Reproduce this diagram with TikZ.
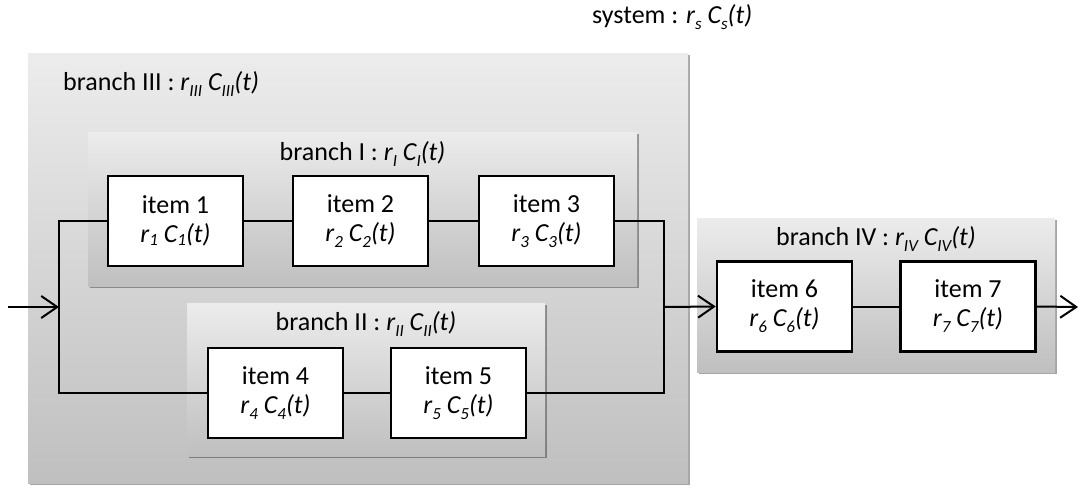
\documentclass[tikz,border=0pt]{standalone}
\usepackage{fontspec}
\setmainfont{Carlito}
\usetikzlibrary{arrows.meta,shadows}
\newcommand{\sbs}[1]{\raisebox{-6pt}{\fontsize{17}{17}\selectfont #1}}
\newcommand{\sba}[1]{\raisebox{-3pt}{\fontsize{17}{17}\selectfont #1}}
\begin{document}
\begin{tikzpicture}[x=1pt,y=-1pt,
  panel/.style={draw=none, top color=gray!15, bottom color=gray!50,
    drop shadow={shadow xshift=2pt,shadow yshift=-2pt,opacity=0.35,fill=black},
    inner sep=0, outer sep=0, anchor=north west},
  item/.style={draw=black, line width=2.5pt, fill=white, minimum width=135pt,
    minimum height=90pt, inner sep=0, align=center, font=\fontsize{26}{29}\selectfont},
  lbl/.style={font=\fontsize{26}{29}\selectfont, inner sep=0, anchor=base},
  wire/.style={line width=2pt},
  arr/.style={wire, -{Straight Barb[length=16pt,width=22pt,line width=2pt]}}
]
\useasboundingbox (0,0) rectangle (1081,488);
% panels
\node[panel, minimum width=660pt, minimum height=430pt] (b3) at (28,53) {};
\node[panel, minimum width=549pt, minimum height=154pt] (b1) at (88,132) {};
\node[panel, minimum width=358pt, minimum height=153pt] (b2) at (187,303) {};
\node[panel, minimum width=358pt, minimum height=154pt] (b4) at (697,218) {};
% labels
\node[lbl, anchor=base west] (lsys) at (592,23) {system : \textit{r\sbs{s} C\sbs{s}(t)}};
\node[lbl, anchor=base west] (l3) at (63,90) {branch III : \textit{r\sbs{III} C\sbs{III}(t)}};
\node[lbl] (l1) at (362.5,160) {branch I : \textit{r\sbs{I} C\sbs{I}(t)}};
\node[lbl] (l2) at (366,330) {branch II : \textit{r\sbs{II} C\sbs{II}(t)}};
\node[lbl] (l4) at (876,245) {branch IV : \textit{r\sbs{IV} C\sbs{IV}(t)}};
% items
\node[item] (i1) at (175.5,221) {item 1\\\textit{r\sba{1} C\sba{1}(t)}};
\node[item] (i2) at (360.5,221) {item 2\\\textit{r\sbs{2} C\sbs{2}(t)}};
\node[item] (i3) at (546.5,221) {item 3\\\textit{r\sbs{3} C\sbs{3}(t)}};
\node[item] (i4) at (275.5,393) {item 4\\\textit{r\sbs{4} C\sbs{4}(t)}};
\node[item] (i5) at (458.5,393) {item 5\\\textit{r\sbs{5} C\sbs{5}(t)}};
\node[item] (i6) at (784.5,306.5) {item 6\\\textit{r\sbs{6} C\sbs{6}(t)}};
\node[item] (i7) at (968,306.5) {item 7\\\textit{r\sbs{7} C\sbs{7}(t)}};
% junctions
\coordinate (src) at (8,307);
\coordinate (jl) at (59,307);
\coordinate (jr) at (664,307);
\coordinate (snk) at (1078,307);
% connectors
\draw[arr] (src) -- (jl);
\draw[wire] (i1.west) -- (i1.west -| jl) -- (i4.west -| jl) -- (i4.west);
\draw[wire] (i1) -- (i2);
\draw[wire] (i2) -- (i3);
\draw[wire] (i4) -- (i5);
\draw[wire] (i3.east) -- (i3.east -| jr) -- (i5.east -| jr) -- (i5.east);
\draw[arr] (jr) -- (i6.west);
\draw[wire] (i6) -- (i7);
\draw[arr] (i7.east) -- (snk);
\end{tikzpicture}
\end{document}
